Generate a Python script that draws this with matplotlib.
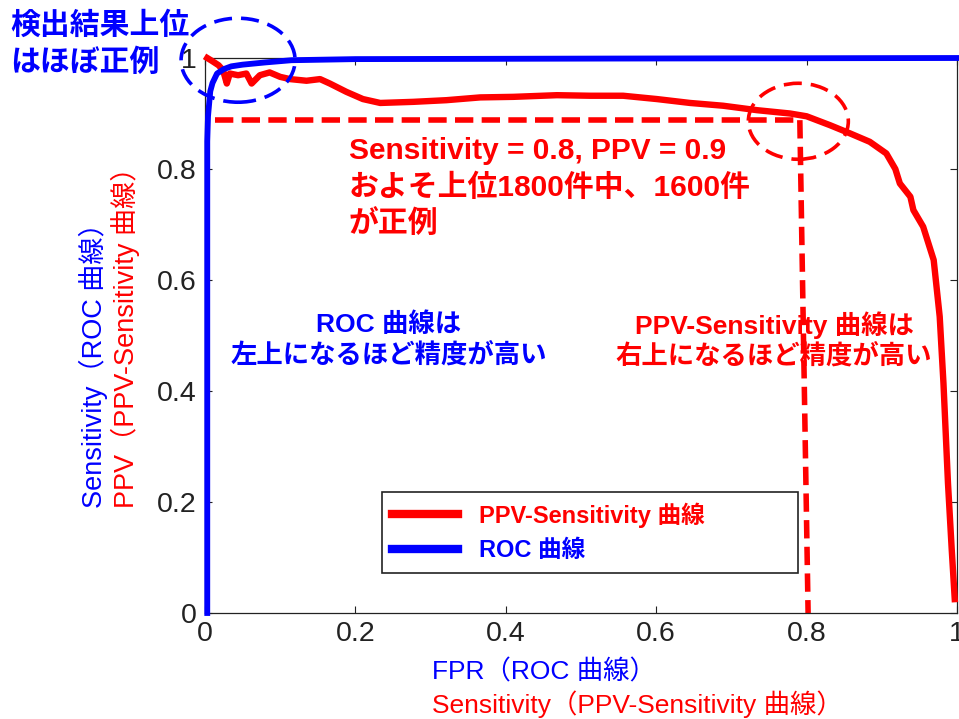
import matplotlib
matplotlib.use("Agg")
import matplotlib.pyplot as plt
from matplotlib.lines import Line2D
from matplotlib.patches import Ellipse

plt.rcParams['font.family'] = ['Liberation Sans', 'Noto Sans CJK JP']

# PPV-Sensitivity curve (x = sensitivity, y = PPV)
ppv_x = [0.003, 0.009, 0.018, 0.024, 0.029, 0.033, 0.044, 0.055, 0.062, 0.073,
         0.086, 0.100, 0.113, 0.135, 0.153, 0.166, 0.188, 0.210, 0.233, 0.277,
         0.321, 0.366, 0.410, 0.468, 0.512, 0.556, 0.601, 0.645, 0.689, 0.734,
         0.778, 0.800, 0.831, 0.858, 0.884, 0.906, 0.918, 0.924, 0.938, 0.942,
         0.955, 0.969, 0.977, 0.982, 0.988, 0.993, 0.997]
ppv_y = [1.000, 0.995, 0.987, 0.978, 0.954, 0.972, 0.969, 0.972, 0.954, 0.969,
         0.974, 0.966, 0.962, 0.959, 0.962, 0.954, 0.939, 0.926, 0.919, 0.921,
         0.924, 0.929, 0.930, 0.933, 0.932, 0.932, 0.926, 0.919, 0.914, 0.906,
         0.900, 0.895, 0.879, 0.864, 0.849, 0.828, 0.800, 0.774, 0.750, 0.726,
         0.696, 0.636, 0.534, 0.414, 0.234, 0.114, 0.025]

# ROC curve (x = FPR, y = sensitivity)
roc_x = [0.003, 0.003, 0.004, 0.007, 0.010, 0.016, 0.025, 0.035, 0.050, 0.080,
         0.115, 0.200, 0.540, 1.000]
roc_y = [0.000, 0.850, 0.895, 0.940, 0.955, 0.972, 0.980, 0.985, 0.988, 0.992,
         0.996, 0.998, 0.999, 1.000]

# operating point guide (Sensitivity = 0.8, PPV = 0.9)
guide_x = [0.013, 0.791]
guide_y = [0.888, 0.888]
guide_vx = [0.791, 0.802]
guide_vy = [0.888, 0.0]

ticks = [0, 0.2, 0.4, 0.6, 0.8, 1]
tick_labels = ['0', '0.2', '0.4', '0.6', '0.8', '1']

W, H = 959, 719
fig = plt.figure(figsize=(W / 100, H / 100), dpi=100)
ax = fig.add_axes([205 / W, 1 - 613 / H, 752 / W, 555 / H])

ax.plot(ppv_x, ppv_y, color='red', lw=4.6, clip_on=False, zorder=3)
ax.plot(roc_x, roc_y, color='blue', lw=4.2, clip_on=False, zorder=4)

ax.plot(guide_x, guide_y, color='red', lw=4, ls=(0, (3.3, 1.5)), zorder=2)
ax.plot(guide_vx, guide_vy, color='red', lw=4, ls=(0, (3.3, 1.5)), zorder=2,
        clip_on=False)

# highlight circles
ax.add_patch(Ellipse((0.044, 0.996), 114 / 752, 84 / 555, fill=False,
                     ec='blue', lw=2.6, ls=(0, (5, 2.5)), clip_on=False, zorder=5))
ax.add_patch(Ellipse((0.789, 0.886), 100 / 752, 76 / 555, fill=False,
                     ec='red', lw=2.6, ls=(0, (5, 2.5)), clip_on=False, zorder=5))

ax.set_xlim(0, 1)
ax.set_ylim(0, 1)
ax.set_xticks(ticks)
ax.set_xticklabels(tick_labels)
ax.set_yticks(ticks)
ax.set_yticklabels(tick_labels)
ax.tick_params(direction='in', top=True, right=True, length=5, width=0.8,
               labelsize=20.5, pad=6, colors='#222222')
for s in ax.spines.values():
    s.set_linewidth(0.9)
    s.set_color('#222222')

# legend
handles = [Line2D([], [], color='red', lw=6),
           Line2D([], [], color='blue', lw=6)]
leg = ax.legend(handles, ['PPV-Sensitivity 曲線', 'ROC 曲線'],
                loc='lower left', bbox_to_anchor=(0.235, 0.072, 0.553, 0.147),
                mode='expand', fancybox=False, framealpha=1, edgecolor='#222222',
                prop={'family': ['Liberation Sans', 'Noto Sans CJK JP'],
                      'weight': 'bold', 'size': 17},
                labelcolor=['red', 'blue'], handlelength=2.8, handletextpad=0.85,
                borderpad=0.45, labelspacing=0.5, borderaxespad=0)
leg.get_frame().set_linewidth(1.2)

bold = {'weight': 'bold'}
fig.text(10 / W, 1 - 44 / H, '検出結果上位\nはほぼ正例', color='blue', fontsize=21.5,
         ha='left', va='center', linespacing=1.4, **bold)
fig.text(349 / W, 1 - 188 / H, 'Sensitivity = 0.8, PPV = 0.9\nおよそ上位1800件中、1600件\nが正例',
         color='red', fontsize=21.5, ha='left', va='center', linespacing=1.38, **bold)
fig.text(389 / W, 1 - 340 / H, 'ROC 曲線は\n左上になるほど精度が高い', color='blue',
         fontsize=19, ha='center', va='center', linespacing=1.22, **bold)
fig.text(774 / W, 1 - 340 / H, 'PPV-Sensitivity 曲線は\n右上になるほど精度が高い', color='red',
         fontsize=19, ha='center', va='center', linespacing=1.22, **bold)

# axis labels
fig.text(93 / W, 1 - 508 / H, 'Sensitivity（ROC 曲線）', color='blue', fontsize=19.5,
         rotation=90, ha='center', va='bottom')
fig.text(125 / W, 1 - 508 / H, 'PPV（PPV-Sensitivity 曲線）', color='red', fontsize=19.5,
         rotation=90, ha='center', va='bottom')
fig.text(432 / W, 1 - 672 / H, 'FPR（ROC 曲線）', color='blue', fontsize=19,
         ha='left', va='center')
fig.text(432 / W, 1 - 704 / H, 'Sensitivity（PPV-Sensitivity 曲線）', color='red',
         fontsize=19, ha='left', va='center')

fig.savefig('out.png', dpi=100)
